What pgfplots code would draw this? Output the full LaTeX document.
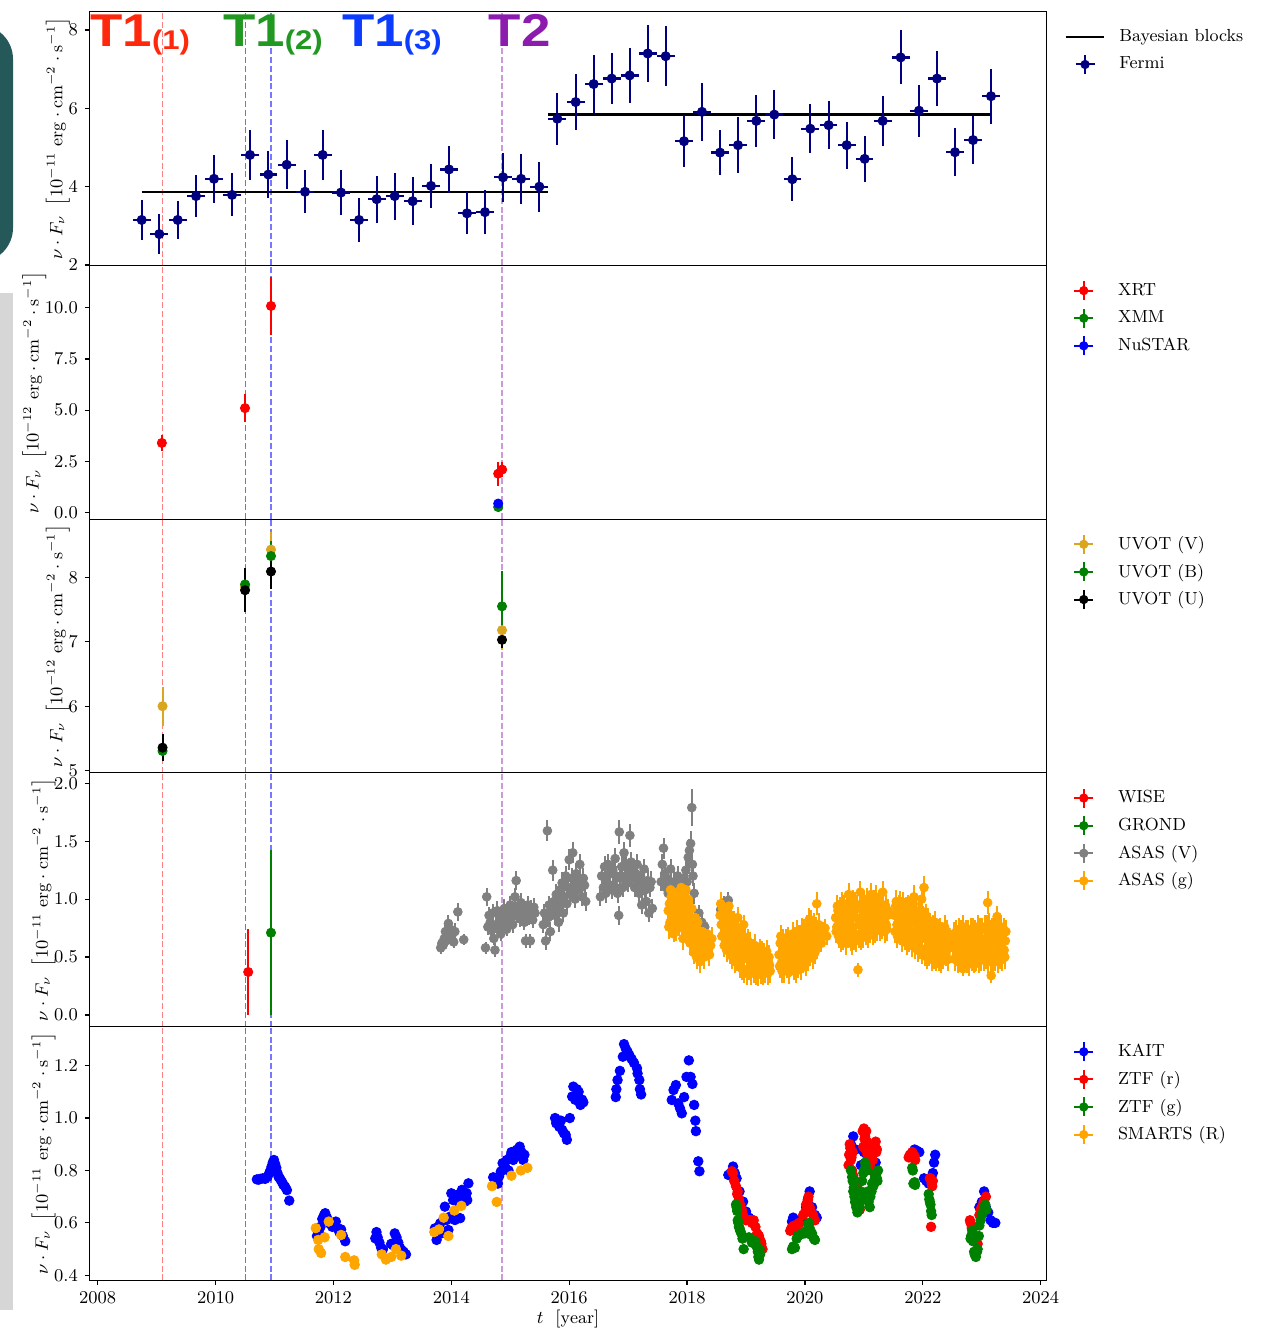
\documentclass[border=0pt]{standalone}
\usepackage{fontspec}
\usepackage{graphicx}
\usepackage{pgfplots}
\pgfplotsset{compat=1.18}
\newfontfamily\heros{Liberation Sans}
\definecolor{navy}{RGB}{0,0,128}
\definecolor{mplgreen}{RGB}{0,128,0}
\definecolor{goldenrod}{RGB}{218,165,32}
\definecolor{mplgrey}{RGB}{128,128,128}
\definecolor{mplorange}{RGB}{255,165,0}
\definecolor{lred}{RGB}{255,40,12}
\definecolor{lgreen}{RGB}{32,152,34}
\definecolor{lblue}{RGB}{12,60,255}
\definecolor{lpurple}{RGB}{140,28,174}
\definecolor{tealbox}{RGB}{37,89,89}
\definecolor{greybar}{RGB}{214,214,214}
\newcommand{\fs}{\fontsize{8.75}{10.5}\selectfont}
\newcommand{\ylab}[1]{$\nu\cdot F_\nu\ \left[10^{-#1}\ \mathrm{erg}\cdot\mathrm{cm}^{-2}\cdot\mathrm{s}^{-1}\right]$}
\pgfplotsset{
  panel/.style={
    scale only axis, width=478.7pt, height=126.86pt,
    xmin=2007.857, xmax=2024.102,
    axis line style={line width=0.6pt},
    every tick/.style={black, line width=0.6pt},
    tick align=outside, major tick length=2.2pt,
    ytick pos=left, xtick pos=bottom,
    tick label style={font=\fs},
    label style={font=\fs},
    ylabel shift=-7.5pt,
    x tick label style={/pgf/number format/1000 sep={}},
    legend style={draw=none, fill=none, at={(1,1)}, anchor=north west, xshift=8.65pt, yshift=-5.5pt, inner sep=0pt, nodes={inner sep=0pt}, row sep=0pt, font=\fs},
    legend cell align=left,
  },
  vl/.style={forget plot, line width=0.75pt, dash pattern=on 3pt off 1.4pt},
  ebleg/.style={legend image code/.code={
    \path[draw=none, fill=none] (0pt,-6.9pt) rectangle (26.8pt,6.9pt);
    \draw[#1, line width=1pt] (4.9pt,0pt) -- (14.45pt,0pt);
    \draw[#1, line width=1pt] (9.675pt,-4.75pt) -- (9.675pt,4.75pt);
    \fill[#1] (9.675pt,0pt) circle (2.1pt);
  }},
  eb/.style={only marks, mark=*, mark size=2.3pt, color=#1, ebleg=#1,
    error bars/y dir=both, error bars/y explicit, error bars/error mark=none,
    error bars/error bar style={line width=1pt}},
  ms/.style={only marks, mark=*, mark size=2.4pt, color=#1, ebleg=#1},
}
\newcommand{\vlines}[2]{%
  \addplot[vl,draw={rgb,255:red,255;green,128;blue,128}] coordinates {(2009.096,#1) (2009.096,#2)};
  \addplot[vl,draw={rgb,255:red,70;green,165;blue,70}] coordinates {(2010.505,#1) (2010.505,#2)};
  \addplot[vl,draw={rgb,255:red,120;green,120;blue,255}] coordinates {(2010.94,#1) (2010.94,#2)};
  \addplot[vl,draw={rgb,255:red,204;green,153;blue,221}] coordinates {(2014.86,#1) (2014.86,#2)};
}
\begin{document}
\begin{tikzpicture}
\path[use as bounding box] (0pt,0pt) rectangle (630.5pt,664.5pt);
\fill[tealbox, rounded corners=17pt] (-20pt,533.5pt) rectangle (6.5pt,652pt);
\fill[greybar] (0pt,9.5pt) rectangle (6.5pt,518pt);

% ---------------- Panel 1: Fermi
\begin{axis}[panel, at={(44.65pt,531.79pt)}, anchor=south west,
  ymin=1.99, ymax=8.467, ytick={2,4,6,8}, xtick=\empty, ylabel={\ylab{11}}]
\vlines{1.99}{8.467}
\addplot[black, line width=1.3pt, legend image code/.code={\path[draw=none,fill=none] (0pt,-6.9pt) rectangle (26.8pt,6.9pt); \draw[black, line width=1.3pt] (0pt,0pt) -- (19.35pt,0pt);}] coordinates {(2008.746,3.86) (2015.645,3.86)};
\addlegendentry{Bayesian blocks}
\addplot[black, line width=1.3pt, forget plot] coordinates {(2015.645,5.84) (2023.157,5.84)};
\addplot[eb=navy, error bars/x dir=both, error bars/x explicit, mark size=2.3pt, error bars/error bar style={line width=1.1pt}]
 table[x=x, y=y, x error=ex, y error=ey] {
x ex y ey
2008.746 0.15 3.15 0.50
2009.045 0.15 2.79 0.52
2009.357 0.15 3.15 0.49
2009.668 0.15 3.76 0.54
2009.973 0.15 4.20 0.61
2010.279 0.15 3.79 0.55
2010.584 0.15 4.81 0.64
2010.895 0.15 4.31 0.60
2011.206 0.15 4.56 0.63
2011.517 0.15 3.87 0.55
2011.817 0.15 4.81 0.64
2012.128 0.15 3.85 0.58
2012.434 0.15 3.15 0.57
2012.733 0.15 3.68 0.60
2013.039 0.15 3.76 0.60
2013.344 0.15 3.63 0.61
2013.655 0.15 4.02 0.57
2013.960 0.15 4.44 0.60
2014.266 0.15 3.32 0.54
2014.571 0.15 3.35 0.57
2014.877 0.15 4.24 0.62
2015.183 0.15 4.20 0.63
2015.493 0.15 4.00 0.64
2015.798 0.15 5.735 0.66
2016.110 0.15 6.16 0.71
2016.415 0.15 6.62 0.74
2016.721 0.15 6.76 0.65
2017.026 0.15 6.84 0.71
2017.332 0.15 7.40 0.74
2017.637 0.15 7.33 0.76
2017.948 0.15 5.16 0.67
2018.253 0.15 5.91 0.74
2018.559 0.15 4.87 0.58
2018.864 0.15 5.06 0.72
2019.175 0.15 5.68 0.67
2019.480 0.15 5.84 0.63
2019.786 0.15 4.19 0.56
2020.091 0.15 5.48 0.63
2020.402 0.15 5.57 0.62
2020.708 0.15 5.06 0.60
2021.013 0.15 4.71 0.59
2021.319 0.15 5.68 0.63
2021.624 0.15 7.30 0.69
2021.935 0.15 5.94 0.66
2022.241 0.15 6.76 0.71
2022.546 0.15 4.88 0.62
2022.852 0.15 5.19 0.61
2023.157 0.15 6.31 0.70
};
\addlegendentry{Fermi}
\end{axis}

% ---------------- Panel 2: X-ray
\begin{axis}[panel, at={(44.65pt,404.93pt)}, anchor=south west,
  ymin=-0.32, ymax=12.07, ytick={0,2.5,5,7.5,10}, xtick=\empty, ylabel={\ylab{12}},
  yticklabel style={/pgf/number format/.cd, fixed, fixed zerofill, precision=1}]
\vlines{-0.32}{12.07}
\addplot[eb=red] table[x=x, y=y, y error=ey] {
x y ey
2009.088 3.40 0.38
2010.499 5.10 0.68
2010.94 10.09 1.42
2014.795 1.90 0.59
2014.862 2.10 0.37
};
\addlegendentry{XRT}
\addplot[eb=mplgreen] table[x=x, y=y, y error=ey] {
x y ey
2014.795 0.27 0.04
};
\addlegendentry{XMM}
\addplot[eb=blue] table[x=x, y=y, y error=ey] {
x y ey
2014.795 0.44 0.04
};
\addlegendentry{NuSTAR}
\end{axis}

% ---------------- Panel 3: UVOT
\begin{axis}[panel, at={(44.65pt,278.07pt)}, anchor=south west,
  ymin=4.966, ymax=8.903, ytick={5,6,7,8}, xtick=\empty, ylabel={\ylab{12}}]
\vlines{4.966}{8.903}
\addplot[eb=goldenrod] table[x=x, y=y, y error=ey] {
x y ey
2009.10 6.00 0.30
2010.50 7.85 0.30
2010.94 8.43 0.27
2014.86 7.18 0.29
};
\addlegendentry{UVOT (V)}
\addplot[eb=mplgreen] table[x=x, y=y, y error=ey] {
x y ey
2009.10 5.305 0.10
2010.50 7.89 0.25
2010.94 8.33 0.23
2014.86 7.55 0.55
};
\addlegendentry{UVOT (B)}
\addplot[eb=black] table[x=x, y=y, y error=ey] {
x y ey
2009.10 5.357 0.21
2010.50 7.80 0.34
2010.94 8.09 0.27
2014.86 7.03 0.13
};
\addlegendentry{UVOT (U)}
\end{axis}

% ---------------- Panel 4: IR / ASAS-SN
\begin{axis}[panel, at={(44.65pt,151.21pt)}, anchor=south west,
  ymin=-0.10, ymax=2.09, ytick={0,0.5,1,1.5,2}, xtick=\empty, ylabel={\ylab{11}},
  yticklabel style={/pgf/number format/.cd, fixed, fixed zerofill, precision=1}]
\vlines{-0.10}{2.09}
\addplot[eb=red] table[x=x, y=y, y error=ey] {
x y ey
2010.553 0.371 0.37
};
\addlegendentry{WISE}
\addplot[eb=mplgreen] table[x=x, y=y, y error=ey] {
x y ey
2010.94 0.71 0.71
};
\addlegendentry{GROND}
\addplot[eb=mplgrey, mark size=2.2pt] table[x=x, y=y, y error=ey] {
x y ey
2013.82 0.58 0.05
2013.84 0.62 0.05
2013.86 0.60 0.06
2013.88 0.66 0.06
2013.90 0.72 0.06
2013.91 0.64 0.05
2013.93 0.70 0.06
2013.95 0.79 0.07
2013.96 0.68 0.06
2013.98 0.74 0.06
2014.00 0.66 0.05
2014.02 0.70 0.06
2014.04 0.63 0.05
2014.06 0.72 0.07
2014.11 0.89 0.08
2014.21 0.65 0.05
2014.58 0.58 0.05
2014.60 1.02 0.08
2014.62 0.76 0.07
2014.64 0.86 0.07
2014.66 0.80 0.06
2014.68 0.73 0.07
2014.70 0.88 0.08
2014.72 0.66 0.06
2014.74 0.56 0.06
2014.76 0.78 0.07
2014.78 0.90 0.08
2014.80 0.75 0.06
2014.82 0.84 0.07
2014.84 0.70 0.06
2014.86 0.82 0.07
2014.88 0.77 0.06
2014.90 0.92 0.08
2014.92 0.80 0.07
2014.94 0.74 0.06
2014.96 0.87 0.07
2014.98 0.81 0.06
2015.00 0.95 0.08
2015.02 0.84 0.07
2015.04 0.78 0.07
2015.06 0.90 0.07
2015.08 1.02 0.08
2015.10 1.16 0.08
2015.12 0.86 0.07
2015.14 0.93 0.07
2015.16 0.83 0.07
2015.18 0.97 0.08
2015.20 0.88 0.07
2015.22 0.92 0.08
2015.24 0.80 0.07
2015.26 0.64 0.06
2015.28 0.89 0.07
2015.30 0.95 0.08
2015.32 0.85 0.07
2015.34 0.64 0.06
2015.36 0.92 0.07
2015.38 0.82 0.07
2015.40 0.93 0.08
2015.42 0.88 0.07
2015.56 0.78 0.07
2015.58 0.88 0.08
2015.60 0.64 0.08
2015.63 1.59 0.09
2015.64 0.84 0.08
2015.66 0.95 0.08
2015.68 0.72 0.08
2015.70 0.90 0.08
2015.72 1.25 0.09
2015.74 0.98 0.08
2015.76 0.86 0.08
2015.78 1.04 0.09
2015.80 0.92 0.08
2015.82 0.80 0.08
2015.84 1.08 0.09
2015.86 0.98 0.08
2015.88 1.14 0.09
2015.90 0.88 0.08
2015.92 1.02 0.08
2015.94 1.20 0.09
2015.96 0.96 0.08
2015.98 1.10 0.09
2016.00 1.34 0.09
2016.02 1.05 0.08
2016.04 1.18 0.09
2016.06 1.40 0.09
2016.08 1.12 0.09
2016.10 1.00 0.08
2016.12 1.22 0.09
2016.14 1.08 0.08
2016.16 1.15 0.09
2016.18 1.30 0.09
2016.20 1.10 0.08
2016.22 1.02 0.08
2016.24 1.18 0.09
2016.26 1.12 0.09
2016.28 0.98 0.08
2016.53 1.02 0.08
2016.55 1.20 0.09
2016.58 1.10 0.08
2016.60 1.28 0.09
2016.62 1.05 0.08
2016.64 1.15 0.09
2016.66 1.30 0.09
2016.68 1.12 0.08
2016.70 1.22 0.09
2016.72 1.08 0.08
2016.74 1.25 0.09
2016.76 1.12 0.08
2016.78 1.35 0.09
2016.80 1.20 0.09
2016.82 1.05 0.08
2016.84 0.86 0.08
2016.85 1.58 0.10
2016.87 1.18 0.09
2016.89 1.28 0.09
2016.91 1.10 0.08
2016.93 1.40 0.09
2016.95 1.20 0.09
2016.97 1.30 0.09
2016.99 1.14 0.08
2017.01 1.24 0.09
2017.03 1.55 0.10
2017.05 1.32 0.09
2017.07 1.18 0.09
2017.09 1.26 0.09
2017.11 1.10 0.08
2017.13 1.22 0.09
2017.15 1.30 0.09
2017.17 1.14 0.08
2017.19 1.05 0.08
2017.21 1.20 0.09
2017.23 0.95 0.08
2017.25 1.12 0.08
2017.27 1.26 0.09
2017.29 1.08 0.08
2017.31 0.98 0.08
2017.33 1.16 0.09
2017.35 0.88 0.08
2017.37 1.10 0.08
2017.39 1.15 0.09
2017.41 0.92 0.08
2017.56 1.15 0.08
2017.58 1.30 0.09
2017.60 1.44 0.09
2017.62 1.22 0.09
2017.64 1.10 0.08
2017.66 1.18 0.09
2017.68 1.05 0.08
2017.70 1.12 0.08
2017.72 1.26 0.09
2017.74 1.02 0.08
2017.76 1.08 0.08
2017.78 1.15 0.09
2017.80 0.98 0.08
2017.82 1.05 0.08
2017.84 1.20 0.09
2017.86 1.10 0.08
2017.88 0.96 0.08
2017.90 1.12 0.08
2017.92 1.03 0.08
2017.94 1.18 0.09
2017.96 1.10 0.09
2017.98 1.25 0.09
2018.00 1.15 0.09
2018.02 1.36 0.10
2018.04 1.42 0.10
2018.06 1.48 0.11
2018.08 1.79 0.16
2018.09 1.30 0.10
2018.10 1.20 0.09
2018.12 1.05 0.09
2018.20 0.88 0.07
2018.25 0.80 0.07
2018.30 0.76 0.06
2018.57 0.91 0.07
2018.62 0.96 0.07
2018.66 0.92 0.08
2018.70 0.99 0.07
2018.74 0.86 0.07
};
\addlegendentry{ASAS (V)}
\addplot[eb=mplorange, mark size=2.2pt] table[x=x, y=y, y error=ey] {
x y ey
2017.68 0.90 0.08
2017.69 0.76 0.10
2017.70 0.96 0.09
2017.71 0.80 0.08
2017.72 1.08 0.10
2017.73 1.02 0.09
2017.74 0.88 0.08
2017.75 0.82 0.10
2017.76 0.94 0.09
2017.77 0.70 0.07
2017.78 1.06 0.10
2017.79 0.98 0.09
2017.80 0.85 0.08
2017.81 0.74 0.10
2017.82 0.92 0.08
2017.83 0.80 0.08
2017.84 1.04 0.10
2017.85 0.96 0.09
2017.86 0.88 0.08
2017.87 0.78 0.10
2017.88 1.00 0.09
2017.89 0.82 0.08
2017.90 1.10 0.10
2017.91 0.92 0.08
2017.92 0.75 0.08
2017.93 0.66 0.10
2017.94 0.86 0.08
2017.95 1.05 0.09
2017.96 0.98 0.10
2017.97 0.90 0.08
2017.98 1.08 0.09
2017.99 0.72 0.10
2018.00 0.94 0.08
2018.01 0.80 0.08
2018.02 1.00 0.10
2018.03 0.88 0.08
2018.04 0.72 0.07
2018.05 0.62 0.10
2018.06 0.84 0.08
2018.07 0.68 0.07
2018.08 0.92 0.10
2018.09 0.78 0.08
2018.10 0.64 0.07
2018.11 0.54 0.10
2018.12 0.72 0.07
2018.13 0.56 0.06
2018.14 0.84 0.10
2018.15 0.66 0.07
2018.16 0.50 0.10
2018.17 0.74 0.07
2018.18 0.80 0.10
2018.19 0.60 0.06
2018.21 0.70 0.07
2018.22 0.46 0.10
2018.23 0.52 0.06
2018.25 0.64 0.06
2018.26 0.72 0.10
2018.27 0.58 0.06
2018.29 0.50 0.10
2018.30 0.68 0.07
2018.33 0.62 0.06
2018.34 0.70 0.10
2018.36 0.56 0.06
2018.38 0.52 0.10
2018.40 0.60 0.06
2018.42 0.66 0.10
2018.56 0.86 0.09
2018.57 0.96 0.10
2018.58 0.78 0.08
2018.59 0.68 0.10
2018.60 0.92 0.09
2018.61 0.84 0.10
2018.62 0.70 0.08
2018.63 0.60 0.10
2018.64 0.82 0.09
2018.65 0.90 0.10
2018.66 0.74 0.08
2018.67 0.56 0.10
2018.68 0.88 0.09
2018.69 0.80 0.10
2018.70 0.66 0.07
2018.71 0.94 0.10
2018.72 0.78 0.08
2018.73 0.54 0.10
2018.74 0.62 0.07
2018.75 0.86 0.10
2018.76 0.72 0.08
2018.77 0.50 0.10
2018.78 0.68 0.07
2018.79 0.80 0.10
2018.80 0.58 0.07
2018.81 0.46 0.10
2018.82 0.70 0.08
2018.83 0.76 0.10
2018.84 0.64 0.07
2018.85 0.48 0.10
2018.86 0.84 0.09
2018.87 0.72 0.10
2018.88 0.60 0.07
2018.89 0.42 0.10
2018.90 0.55 0.07
2018.91 0.74 0.10
2018.92 0.66 0.07
2018.93 0.40 0.10
2018.94 0.58 0.07
2018.95 0.68 0.10
2018.96 0.78 0.08
2018.97 0.38 0.10
2018.98 0.52 0.06
2018.99 0.66 0.10
2019.00 0.62 0.07
2019.01 0.36 0.10
2019.02 0.56 0.07
2019.03 0.64 0.10
2019.04 0.48 0.06
2019.05 0.40 0.10
2019.06 0.60 0.07
2019.07 0.62 0.10
2019.08 0.54 0.06
2019.09 0.36 0.10
2019.10 0.46 0.06
2019.11 0.56 0.10
2019.12 0.58 0.07
2019.13 0.38 0.10
2019.14 0.50 0.06
2019.15 0.60 0.10
2019.16 0.44 0.06
2019.17 0.36 0.10
2019.18 0.55 0.06
2019.19 0.52 0.10
2019.20 0.48 0.06
2019.21 0.35 0.10
2019.22 0.42 0.06
2019.23 0.56 0.10
2019.24 0.52 0.06
2019.25 0.37 0.10
2019.26 0.45 0.06
2019.27 0.54 0.10
2019.28 0.40 0.06
2019.29 0.36 0.10
2019.30 0.50 0.06
2019.31 0.52 0.10
2019.32 0.44 0.06
2019.33 0.38 0.10
2019.34 0.48 0.06
2019.35 0.55 0.10
2019.36 0.41 0.06
2019.37 0.36 0.10
2019.38 0.46 0.06
2019.39 0.50 0.10
2019.40 0.43 0.06
2019.41 0.38 0.10
2019.56 0.52 0.07
2019.57 0.42 0.10
2019.58 0.62 0.08
2019.59 0.68 0.10
2019.60 0.45 0.07
2019.61 0.38 0.10
2019.62 0.56 0.07
2019.63 0.64 0.10
2019.64 0.42 0.07
2019.65 0.38 0.10
2019.66 0.50 0.07
2019.67 0.58 0.10
2019.68 0.66 0.08
2019.69 0.42 0.10
2019.70 0.46 0.07
2019.71 0.66 0.10
2019.72 0.58 0.07
2019.73 0.37 0.10
2019.74 0.40 0.07
2019.75 0.60 0.10
2019.76 0.52 0.07
2019.77 0.44 0.10
2019.78 0.62 0.08
2019.79 0.70 0.10
2019.80 0.48 0.07
2019.81 0.40 0.10
2019.82 0.56 0.07
2019.83 0.66 0.10
2019.84 0.44 0.07
2019.85 0.38 0.10
2019.86 0.64 0.08
2019.87 0.72 0.10
2019.88 0.52 0.07
2019.89 0.42 0.10
2019.90 0.70 0.08
2019.91 0.62 0.10
2019.92 0.56 0.07
2019.93 0.40 0.10
2019.94 0.46 0.07
2019.95 0.74 0.10
2019.96 0.62 0.08
2019.97 0.46 0.10
2019.98 0.74 0.09
2019.99 0.64 0.10
2020.00 0.55 0.07
2020.01 0.44 0.10
2020.02 0.66 0.08
2020.03 0.76 0.10
2020.04 0.50 0.07
2020.05 0.48 0.10
2020.06 0.72 0.08
2020.07 0.82 0.10
2020.08 0.60 0.07
2020.09 0.52 0.10
2020.10 0.82 0.09
2020.11 0.70 0.10
2020.12 0.64 0.08
2020.13 0.50 0.10
2020.14 0.70 0.08
2020.15 0.78 0.10
2020.16 0.56 0.07
2020.17 0.54 0.10
2020.18 0.76 0.09
2020.19 0.62 0.10
2020.20 0.96 0.10
2020.21 0.58 0.10
2020.22 0.66 0.08
2020.23 0.78 0.10
2020.24 0.72 0.08
2020.26 0.66 0.10
2020.28 0.62 0.08
2020.31 0.70 0.10
2020.34 0.75 0.08
2020.37 0.68 0.08
2020.52 0.84 0.08
2020.53 0.72 0.10
2020.54 0.76 0.08
2020.55 0.94 0.10
2020.56 0.90 0.09
2020.57 0.68 0.10
2020.58 0.80 0.08
2020.59 0.92 0.10
2020.60 0.72 0.08
2020.61 0.64 0.10
2020.62 0.86 0.09
2020.63 0.96 0.10
2020.64 0.78 0.08
2020.65 0.66 0.10
2020.66 0.68 0.08
2020.67 0.94 0.10
2020.68 0.82 0.08
2020.69 0.62 0.10
2020.70 0.74 0.08
2020.71 0.96 0.10
2020.72 0.90 0.09
2020.73 0.68 0.10
2020.74 1.04 0.10
2020.75 0.72 0.10
2020.76 0.80 0.08
2020.77 0.94 0.10
2020.78 0.62 0.07
2020.79 0.62 0.10
2020.80 0.86 0.09
2020.81 0.98 0.10
2020.82 0.76 0.08
2020.83 0.66 0.10
2020.84 0.92 0.09
2020.85 0.96 0.10
2020.86 0.70 0.08
2020.87 0.64 0.10
2020.88 0.84 0.08
2020.89 0.94 0.10
2020.90 0.39 0.06
2020.91 0.68 0.10
2020.92 0.78 0.08
2020.93 0.92 0.10
2020.94 1.06 0.10
2020.95 0.66 0.10
2020.96 0.82 0.08
2020.97 0.96 0.10
2020.98 0.74 0.08
2020.99 0.68 0.10
2021.00 0.88 0.09
2021.01 0.98 0.10
2021.02 0.80 0.08
2021.03 0.70 0.10
2021.04 0.94 0.09
2021.05 1.00 0.10
2021.06 0.76 0.08
2021.07 0.68 0.10
2021.08 0.86 0.09
2021.09 0.96 0.10
2021.10 0.72 0.08
2021.11 0.72 0.10
2021.12 1.04 0.10
2021.13 0.94 0.10
2021.14 0.84 0.08
2021.15 0.70 0.10
2021.16 0.92 0.09
2021.17 0.98 0.10
2021.18 0.78 0.08
2021.19 0.72 0.10
2021.20 1.02 0.10
2021.21 0.94 0.10
2021.22 0.88 0.09
2021.23 0.74 0.10
2021.24 0.80 0.08
2021.25 0.98 0.10
2021.26 0.96 0.09
2021.27 0.74 0.10
2021.28 0.84 0.08
2021.29 0.96 0.10
2021.30 0.90 0.09
2021.31 0.76 0.10
2021.32 1.06 0.10
2021.33 0.92 0.10
2021.34 0.82 0.08
2021.35 0.72 0.10
2021.36 0.88 0.09
2021.37 0.94 0.10
2021.38 0.78 0.08
2021.39 0.74 0.10
2021.40 0.86 0.08
2021.41 0.90 0.10
2021.52 0.86 0.09
2021.53 0.72 0.10
2021.54 0.94 0.09
2021.55 0.98 0.10
2021.56 0.78 0.08
2021.57 0.68 0.10
2021.58 0.90 0.09
2021.59 0.94 0.10
2021.60 0.82 0.08
2021.61 0.70 0.10
2021.62 0.98 0.09
2021.63 0.90 0.10
2021.64 0.74 0.08
2021.65 0.64 0.10
2021.66 0.86 0.09
2021.67 0.96 0.10
2021.68 0.80 0.08
2021.69 0.66 0.10
2021.70 0.92 0.09
2021.71 0.92 0.10
2021.72 0.70 0.08
2021.73 0.62 0.10
2021.74 0.84 0.08
2021.75 0.94 0.10
2021.76 0.76 0.08
2021.77 0.64 0.10
2021.78 0.88 0.09
2021.79 0.92 0.10
2021.80 0.66 0.07
2021.81 0.60 0.10
2021.82 0.80 0.08
2021.83 0.88 0.10
2021.84 0.96 0.09
2021.85 1.02 0.10
2021.86 0.72 0.08
2021.87 0.58 0.10
2021.88 0.84 0.08
2021.89 0.90 0.10
2021.90 0.62 0.07
2021.91 0.56 0.10
2021.92 0.78 0.08
2021.93 0.88 0.10
2021.94 0.68 0.07
2021.95 0.58 0.10
2021.96 0.86 0.09
2021.97 0.90 0.10
2021.98 1.00 0.10
2021.99 0.54 0.10
2022.00 0.74 0.08
2022.01 0.84 0.10
2022.02 1.10 0.10
2022.03 0.52 0.10
2022.04 0.66 0.07
2022.05 0.86 0.10
2022.06 0.80 0.08
2022.07 0.50 0.10
2022.08 0.58 0.07
2022.09 0.82 0.10
2022.10 0.72 0.08
2022.11 0.52 0.10
2022.12 0.64 0.07
2022.13 0.78 0.10
2022.14 0.76 0.08
2022.15 0.48 0.10
2022.16 0.54 0.07
2022.17 0.76 0.10
2022.18 0.68 0.08
2022.19 0.50 0.10
2022.20 0.60 0.07
2022.21 0.80 0.10
2022.22 0.72 0.08
2022.23 0.48 0.10
2022.24 0.56 0.07
2022.25 0.72 0.10
2022.26 0.64 0.07
2022.27 0.52 0.10
2022.28 0.44 0.06
2022.29 0.74 0.10
2022.30 0.62 0.07
2022.31 0.46 0.10
2022.32 0.52 0.07
2022.33 0.70 0.10
2022.34 0.66 0.07
2022.35 0.50 0.10
2022.36 0.58 0.07
2022.37 0.76 0.10
2022.38 0.70 0.08
2022.39 0.52 0.10
2022.40 0.55 0.07
2022.41 0.72 0.10
2022.42 0.62 0.07
2022.43 0.48 0.10
2022.44 0.68 0.07
2022.52 0.58 0.07
2022.53 0.70 0.10
2022.54 0.64 0.07
2022.55 0.48 0.10
2022.56 0.50 0.07
2022.57 0.72 0.10
2022.58 0.60 0.07
2022.59 0.46 0.10
2022.60 0.54 0.07
2022.61 0.74 0.10
2022.62 0.68 0.08
2022.63 0.48 0.10
2022.64 0.48 0.07
2022.65 0.72 0.10
2022.66 0.58 0.07
2022.67 0.50 0.10
2022.68 0.40 0.06
2022.69 0.76 0.10
2022.70 0.62 0.07
2022.71 0.47 0.10
2022.72 0.52 0.07
2022.73 0.72 0.10
2022.74 0.70 0.08
2022.75 0.46 0.10
2022.76 0.56 0.07
2022.77 0.72 0.10
2022.78 0.46 0.07
2022.79 0.44 0.10
2022.80 0.60 0.07
2022.81 0.74 0.10
2022.82 0.66 0.08
2022.83 0.48 0.10
2022.84 0.50 0.07
2022.85 0.74 0.10
2022.86 0.58 0.07
2022.87 0.46 0.10
2022.88 0.44 0.07
2022.89 0.72 0.10
2022.90 0.62 0.07
2022.91 0.48 0.10
2022.92 0.54 0.07
2022.93 0.76 0.10
2022.94 0.72 0.08
2022.95 0.46 0.10
2022.96 0.48 0.07
2022.97 0.74 0.10
2022.98 0.60 0.07
2022.99 0.48 0.10
2023.00 0.66 0.08
2023.01 0.74 0.10
2023.02 0.52 0.07
2023.03 0.48 0.10
2023.04 0.62 0.07
2023.05 0.76 0.10
2023.06 0.56 0.07
2023.07 0.50 0.10
2023.08 0.74 0.08
2023.09 0.76 0.10
2023.10 0.97 0.10
2023.11 0.46 0.10
2023.12 0.58 0.07
2023.13 0.78 0.10
2023.14 0.66 0.08
2023.15 0.48 0.10
2023.16 0.34 0.06
2023.17 0.74 0.10
2023.18 0.60 0.07
2023.19 0.46 0.10
2023.20 0.70 0.08
2023.21 0.76 0.10
2023.22 0.54 0.07
2023.23 0.48 0.10
2023.24 0.64 0.07
2023.25 0.72 0.10
2023.26 0.85 0.09
2023.27 0.46 0.10
2023.28 0.58 0.07
2023.29 0.74 0.10
2023.30 0.68 0.08
2023.31 0.50 0.10
2023.32 0.52 0.07
2023.33 0.76 0.10
2023.34 0.62 0.07
2023.35 0.48 0.10
2023.36 0.70 0.08
2023.37 0.74 0.10
2023.38 0.56 0.07
2023.39 0.50 0.10
2023.40 0.64 0.07
2023.41 0.72 0.10
};
\addlegendentry{ASAS (g)}
\end{axis}

% ---------------- Panel 5: optical
\begin{axis}[panel, at={(44.65pt,24.35pt)}, anchor=south west,
  ymin=0.381, ymax=1.349, ytick={0.4,0.6,0.8,1.0,1.2},
  xtick={2008,2010,2012,2014,2016,2018,2020,2022,2024},
  yticklabel style={/pgf/number format/.cd, fixed, fixed zerofill, precision=1},
  ylabel={\ylab{11}}, xlabel={$t\ \ \mathrm{[year]}$}, xlabel style={yshift=3.5pt}]
\vlines{0.381}{1.349}
\addplot[ms=blue, error bars/y dir=both, error bars/y fixed=0.015, error bars/error mark=none, error bars/error bar style={line width=1pt}] table[x=x, y=y] {
x y
2010.70 0.766
2010.73 0.765
2010.76 0.768
2010.80 0.770
2010.84 0.768
2010.88 0.775
2010.91 0.790
2010.93 0.800
2010.95 0.815
2010.97 0.830
2010.99 0.840
2011.01 0.825
2011.03 0.810
2011.05 0.790
2011.07 0.775
2011.09 0.770
2011.11 0.762
2011.13 0.755
2011.15 0.745
2011.18 0.738
2011.21 0.725
2011.25 0.685
2011.72 0.550
2011.75 0.565
2011.78 0.585
2011.81 0.615
2011.84 0.630
2011.86 0.637
2011.89 0.620
2011.92 0.605
2011.95 0.595
2011.98 0.585
2012.01 0.600
2012.04 0.605
2012.07 0.580
2012.10 0.565
2012.13 0.575
2012.16 0.550
2012.20 0.530
2012.71 0.541
2012.73 0.565
2012.75 0.545
2012.78 0.525
2012.81 0.505
2012.84 0.500
2012.98 0.520
2013.01 0.515
2013.04 0.560
2013.07 0.545
2013.10 0.525
2013.13 0.505
2013.16 0.495
2013.19 0.490
2013.23 0.480
2013.72 0.579
2013.75 0.535
2013.78 0.565
2013.81 0.598
2013.83 0.560
2013.86 0.610
2013.89 0.662
2013.92 0.611
2013.95 0.573
2013.98 0.624
2014.00 0.713
2014.03 0.687
2014.06 0.611
2014.09 0.706
2014.12 0.681
2014.15 0.618
2014.18 0.726
2014.20 0.700
2014.23 0.681
2014.26 0.713
2014.27 0.687
2014.29 0.751
2014.71 0.774
2014.74 0.765
2014.77 0.757
2014.79 0.750
2014.81 0.777
2014.84 0.796
2014.87 0.828
2014.89 0.810
2014.91 0.815
2014.94 0.840
2014.97 0.800
2015.00 0.853
2015.02 0.870
2015.05 0.840
2015.08 0.866
2015.11 0.879
2015.14 0.860
2015.16 0.891
2015.19 0.870
2015.22 0.840
2015.24 0.860
2015.76 1.000
2015.78 0.980
2015.80 0.993
2015.83 0.967
2015.86 0.990
2015.88 0.955
2015.91 0.942
2015.94 0.936
2015.96 0.917
2016.01 1.000
2016.05 1.082
2016.07 1.120
2016.10 1.070
2016.13 1.110
2016.16 1.100
2016.19 1.050
2016.22 1.070
2016.24 1.060
2016.79 1.080
2016.80 1.110
2016.82 1.145
2016.86 1.180
2016.91 1.234
2016.93 1.282
2016.96 1.265
2016.99 1.253
2017.02 1.240
2017.06 1.225
2017.10 1.210
2017.15 1.190
2017.16 1.170
2017.19 1.145
2017.20 1.110
2017.22 1.090
2017.74 1.069
2017.77 1.107
2017.81 1.126
2017.85 1.056
2017.88 1.037
2017.91 1.018
2017.95 1.080
2017.99 1.157
2018.03 1.220
2018.06 1.157
2018.09 1.130
2018.12 1.050
2018.14 0.990
2018.15 0.950
2018.19 0.835
2018.21 0.797
2018.70 0.783
2018.74 0.790
2018.78 0.815
2018.81 0.790
2018.84 0.770
2018.89 0.720
2018.95 0.681
2019.00 0.643
2019.05 0.620
2019.78 0.605
2019.80 0.620
2019.85 0.610
2019.90 0.600
2019.95 0.615
2020.02 0.660
2020.05 0.690
2020.08 0.720
2020.12 0.660
2020.17 0.630
2020.20 0.620
2020.78 0.900
2020.82 0.930
2020.86 0.880
2020.95 0.820
2021.00 0.870
2021.05 0.860
2021.10 0.840
2021.15 0.880
2021.20 0.830
2021.86 0.880
2021.90 0.875
2021.94 0.870
2022.02 0.770
2022.06 0.760
2022.10 0.750
2022.17 0.790
2022.19 0.830
2022.21 0.860
2022.96 0.660
2023.00 0.680
2023.04 0.720
2023.07 0.660
2023.11 0.640
2023.15 0.610
2023.19 0.600
2023.23 0.600
};
\addlegendentry{KAIT}
\addplot[ms=red] table[x=x, y=y] {
x y
2018.76 0.797
2018.78 0.790
2018.80 0.760
2018.83 0.740
2018.85 0.710
2018.86 0.720
2018.88 0.690
2018.90 0.670
2018.93 0.650
2018.95 0.630
2019.00 0.610
2019.05 0.610
2019.08 0.610
2019.10 0.600
2019.13 0.610
2019.16 0.585
2019.19 0.560
2019.22 0.550
2019.25 0.530
2019.26 0.520
2019.28 0.500
2019.75 0.570
2019.77 0.580
2019.80 0.586
2019.82 0.590
2019.86 0.580
2019.90 0.600
2019.97 0.630
2020.00 0.640
2020.02 0.670
2020.03 0.670
2020.05 0.685
2020.06 0.700
2020.08 0.660
2020.11 0.640
2020.14 0.630
2020.17 0.610
2020.74 0.820
2020.75 0.860
2020.76 0.900
2020.77 0.885
2020.78 0.840
2020.79 0.850
2020.80 0.800
2020.81 0.870
2020.82 0.780
2020.84 0.760
2020.86 0.720
2020.88 0.740
2020.90 0.700
2020.92 0.680
2020.93 0.650
2020.96 0.700
2020.98 0.950
2020.99 0.890
2021.00 0.960
2021.01 0.920
2021.02 0.930
2021.03 0.880
2021.04 0.950
2021.05 0.910
2021.06 0.860
2021.08 0.850
2021.10 0.820
2021.12 0.800
2021.13 0.865
2021.15 0.840
2021.17 0.880
2021.19 0.890
2021.20 0.910
2021.21 0.870
2021.22 0.880
2021.76 0.850
2021.78 0.860
2021.80 0.850
2021.82 0.870
2021.84 0.860
2021.86 0.855
2021.87 0.840
2022.12 0.770
2022.13 0.770
2022.15 0.750
2022.14 0.585
2022.16 0.740
2022.17 0.760
2022.80 0.610
2022.81 0.600
2022.83 0.580
2022.85 0.560
2022.87 0.540
2022.90 0.530
2022.93 0.520
2022.96 0.630
2022.98 0.650
2023.00 0.660
2023.03 0.680
2023.07 0.700
};
\addlegendentry{ZTF (r)}
\addplot[ms=mplgreen] table[x=x, y=y] {
x y
2018.83 0.670
2018.84 0.660
2018.85 0.645
2018.86 0.610
2018.87 0.600
2018.88 0.585
2018.89 0.580
2018.90 0.570
2018.92 0.560
2018.94 0.540
2018.96 0.500
2019.05 0.545
2019.10 0.525
2019.12 0.530
2019.16 0.530
2019.18 0.510
2019.20 0.490
2019.21 0.470
2019.22 0.460
2019.23 0.500
2019.24 0.480
2019.78 0.500
2019.80 0.510
2019.83 0.505
2019.86 0.540
2019.88 0.550
2019.92 0.555
2019.95 0.560
2020.00 0.560
2020.02 0.570
2020.05 0.595
2020.07 0.600
2020.08 0.580
2020.10 0.555
2020.12 0.560
2020.15 0.540
2020.17 0.535
2020.78 0.800
2020.80 0.775
2020.81 0.760
2020.82 0.720
2020.83 0.735
2020.84 0.700
2020.85 0.680
2020.86 0.710
2020.87 0.660
2020.88 0.670
2020.89 0.640
2020.90 0.700
2020.91 0.680
2020.93 0.660
2020.95 0.720
2020.96 0.700
2020.97 0.760
2020.99 0.790
2021.00 0.800
2021.02 0.830
2021.03 0.820
2021.05 0.800
2021.07 0.720
2021.08 0.680
2021.10 0.660
2021.11 0.700
2021.13 0.720
2021.14 0.750
2021.16 0.740
2021.18 0.765
2021.19 0.780
2021.21 0.790
2021.22 0.770
2021.23 0.760
2021.24 0.800
2021.82 0.810
2021.83 0.800
2021.84 0.750
2021.86 0.755
2021.87 0.745
2022.10 0.710
2022.11 0.690
2022.12 0.680
2022.13 0.670
2022.14 0.645
2022.15 0.630
2022.81 0.540
2022.82 0.550
2022.84 0.570
2022.85 0.530
2022.87 0.490
2022.88 0.480
2022.90 0.470
2022.92 0.490
2022.93 0.500
2022.95 0.550
2022.96 0.590
2022.98 0.610
2023.00 0.630
2023.02 0.640
2023.05 0.660
2023.06 0.670
2023.08 0.650
};
\addlegendentry{ZTF (g)}
\addplot[ms=mplorange] table[x=x, y=y] {
x y
2011.70 0.580
2011.74 0.535
2011.75 0.500
2011.79 0.485
2011.85 0.545
2011.92 0.605
2012.13 0.554
2012.20 0.470
2012.35 0.457
2012.36 0.440
2012.82 0.480
2012.89 0.460
2012.98 0.470
2013.06 0.500
2013.15 0.475
2013.71 0.565
2013.79 0.575
2013.87 0.620
2013.95 0.550
2014.05 0.647
2014.17 0.665
2014.69 0.740
2014.77 0.680
2015.02 0.780
2015.18 0.800
2015.29 0.810
};
\addlegendentry{SMARTS (R)}
\end{axis}

% ---------------- epoch labels
\node[anchor=base west, inner sep=0pt, text=lred, font=\heros\bfseries\fontsize{23}{23}\selectfont] at (45pt,641.15pt) {\scalebox{1.15}[1]{T1}};
\node[anchor=base west, inner sep=0pt, text=lred, font=\heros\bfseries\fontsize{13.5}{13.5}\selectfont] at (75.85pt,639.5pt) {\scalebox{1.15}[1]{(1)}};
\node[anchor=base west, inner sep=0pt, text=lgreen, font=\heros\bfseries\fontsize{23}{23}\selectfont] at (111.35pt,641.15pt) {\scalebox{1.15}[1]{T1}};
\node[anchor=base west, inner sep=0pt, text=lgreen, font=\heros\bfseries\fontsize{13.5}{13.5}\selectfont] at (142.2pt,639.5pt) {\scalebox{1.15}[1]{(2)}};
\node[anchor=base west, inner sep=0pt, text=lblue, font=\heros\bfseries\fontsize{23}{23}\selectfont] at (170.85pt,641.15pt) {\scalebox{1.15}[1]{T1}};
\node[anchor=base west, inner sep=0pt, text=lblue, font=\heros\bfseries\fontsize{13.5}{13.5}\selectfont] at (201.7pt,639.5pt) {\scalebox{1.15}[1]{(3)}};
\node[anchor=base west, inner sep=0pt, text=lpurple, font=\heros\bfseries\fontsize{23}{23}\selectfont] at (244.15pt,641.15pt) {\scalebox{1.15}[1]{T2}};
\end{tikzpicture}
\end{document}
